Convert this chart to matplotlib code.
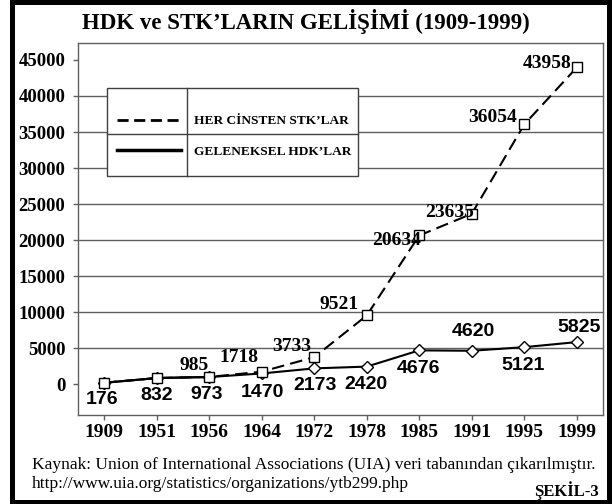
import matplotlib
matplotlib.use("Agg")
import matplotlib.pyplot as plt
from matplotlib.patches import Rectangle
from matplotlib.lines import Line2D

years = ["1909", "1951", "1956", "1964", "1972", "1978", "1985", "1991", "1995", "1999"]
hdk = [176, 832, 973, 1470, 2173, 2420, 4676, 4620, 5121, 5825]
stk = [176, 832, 985, 1718, 3733, 9521, 20634, 23635, 36054, 43958]
yticks = [0, 5000, 10000, 15000, 20000, 25000, 30000, 35000, 40000, 45000]

title = "HDK ve STK\u2019LARIN GEL\u0130\u015e\u0130M\u0130 (1909-1999)"
stk_name = "HER C\u0130NSTEN STK\u2019LAR"
hdk_name = "GELENEKSEL HDK\u2019LAR"
source1 = "Kaynak: Union of International Associations (UIA) veri tabanından çıkarılmıştır."
source2 = "http://www.uia.org/statistics/organizations/ytb299.php"
fig_no = "\u015eEK\u0130L-3"

SERIF = "Liberation Serif"
SANS = "Liberation Sans"
W, H = 612, 504

# label offsets in pixels (dx, dy)
hdk_off = [(-2, -17), (0, -17), (-3, -17), (1, -19), (1, -17), (-1, -18),
           (-1, -18), (2, 19), (-1, -18), (2, 15)]
stk_off = [None, None, (-1, 11), (-3, 14), (-3, 11), (-8, 11), (2, -5),
           (2, 1), (-7, 7), (-5, 4)]

fig = plt.figure(figsize=(W / 100, H / 100), dpi=100)
ax = fig.add_axes([78 / W, 1 - 415 / H, (603 - 78) / W, (415 - 43) / H])

x = list(range(len(years)))
ax.plot(x, hdk, color="black", lw=1.5, marker="D", ms=6, mfc="white",
        mec="black", mew=1, zorder=3)
ax.plot(x, stk, color="black", lw=1.5, ls=(0, (6, 3)), marker="s", ms=7,
        mfc="white", mec="black", mew=1, zorder=4)
# solid part where the two series coincide
ax.plot(x[:3], stk[:3], color="black", lw=1.5, zorder=3.5)

ax.set_xlim(-0.5, 9.5)
ax.set_ylim(-4300, 47360)
ax.set_xticks(x)
ax.set_xticklabels(years, fontfamily=SERIF, fontweight="bold", fontsize=14)
ax.set_yticks(yticks)
ax.set_yticklabels([str(v) for v in yticks], fontfamily=SERIF,
                   fontweight="bold", fontsize=13.5)
ax.tick_params(axis="y", direction="out", length=3.6, width=1,
               color="#606060", pad=5.5)
ax.tick_params(axis="x", direction="out", length=3.6, width=1,
               color="#606060", pad=3)
for s in ax.spines.values():
    s.set_color("#606060")
    s.set_linewidth(1)

for v in yticks[1:-1]:
    ax.axhline(v, color="#606060", lw=1, zorder=1)

for i, v in enumerate(hdk):
    dx, dy = hdk_off[i]
    ax.annotate(str(v), (i, v), xytext=(dx, dy), textcoords="offset pixels",
                ha="center", va="center", fontfamily=SANS, fontweight="bold",
                fontsize=14, zorder=5)
for i, v in enumerate(stk):
    if stk_off[i] is None:
        continue
    dx, dy = stk_off[i]
    ax.annotate(str(v), (i, v), xytext=(dx, dy), textcoords="offset pixels",
                ha="right", va="center", fontfamily=SERIF, fontweight="bold",
                fontsize=14, zorder=5)

# legend box drawn by hand, figure pixel coords
def fx(px):
    return px / W

def fy(py):
    return 1 - py / H

tf = fig.transFigure
fig.patches.append(Rectangle((fx(107), fy(176)), fx(358) - fx(107), fy(88) - fy(176),
                             transform=tf, facecolor="white", edgecolor="#404040",
                             lw=1, zorder=10))
fig.lines.append(Line2D([fx(187), fx(187)], [fy(88), fy(176)], transform=tf,
                        color="#404040", lw=1, zorder=11))
fig.lines.append(Line2D([fx(107), fx(358)], [fy(134), fy(134)], transform=tf,
                        color="#404040", lw=1, zorder=11))
fig.lines.append(Line2D([fx(117), fx(181)], [fy(120), fy(120)], transform=tf,
                        color="black", lw=2, ls=(0, (4, 2)), zorder=11))
fig.lines.append(Line2D([fx(117), fx(181)], [fy(150), fy(150)], transform=tf,
                        color="black", lw=2.5, zorder=11))
fig.text(fx(194), fy(121), stk_name, fontfamily=SERIF, fontweight="bold",
         fontsize=9.6, va="center", ha="left", zorder=12)
fig.text(fx(194), fy(152), hdk_name, fontfamily=SERIF, fontweight="bold",
         fontsize=9.6, va="center", ha="left", zorder=12)

fig.text(0.5, fy(22), title, fontfamily=SERIF, fontweight="bold",
         fontsize=16.5, ha="center", va="center")
fig.text(fx(32), fy(465), source1, fontfamily=SERIF, fontsize=12.5,
         ha="left", va="center")
fig.text(fx(32), fy(484), source2, fontfamily=SERIF, fontsize=12.5,
         ha="left", va="center")
fig.text(fx(599), fy(491), fig_no, fontfamily=SERIF, fontweight="bold",
         fontsize=12, ha="right", va="center")

fig.patches.append(Rectangle((fx(11.5), fy(502)), fx(609) - fx(11.5), fy(2) - fy(502),
                             transform=tf, fill=False, edgecolor="black",
                             lw=3.6, zorder=20))

fig.savefig("out.png", dpi=100)
